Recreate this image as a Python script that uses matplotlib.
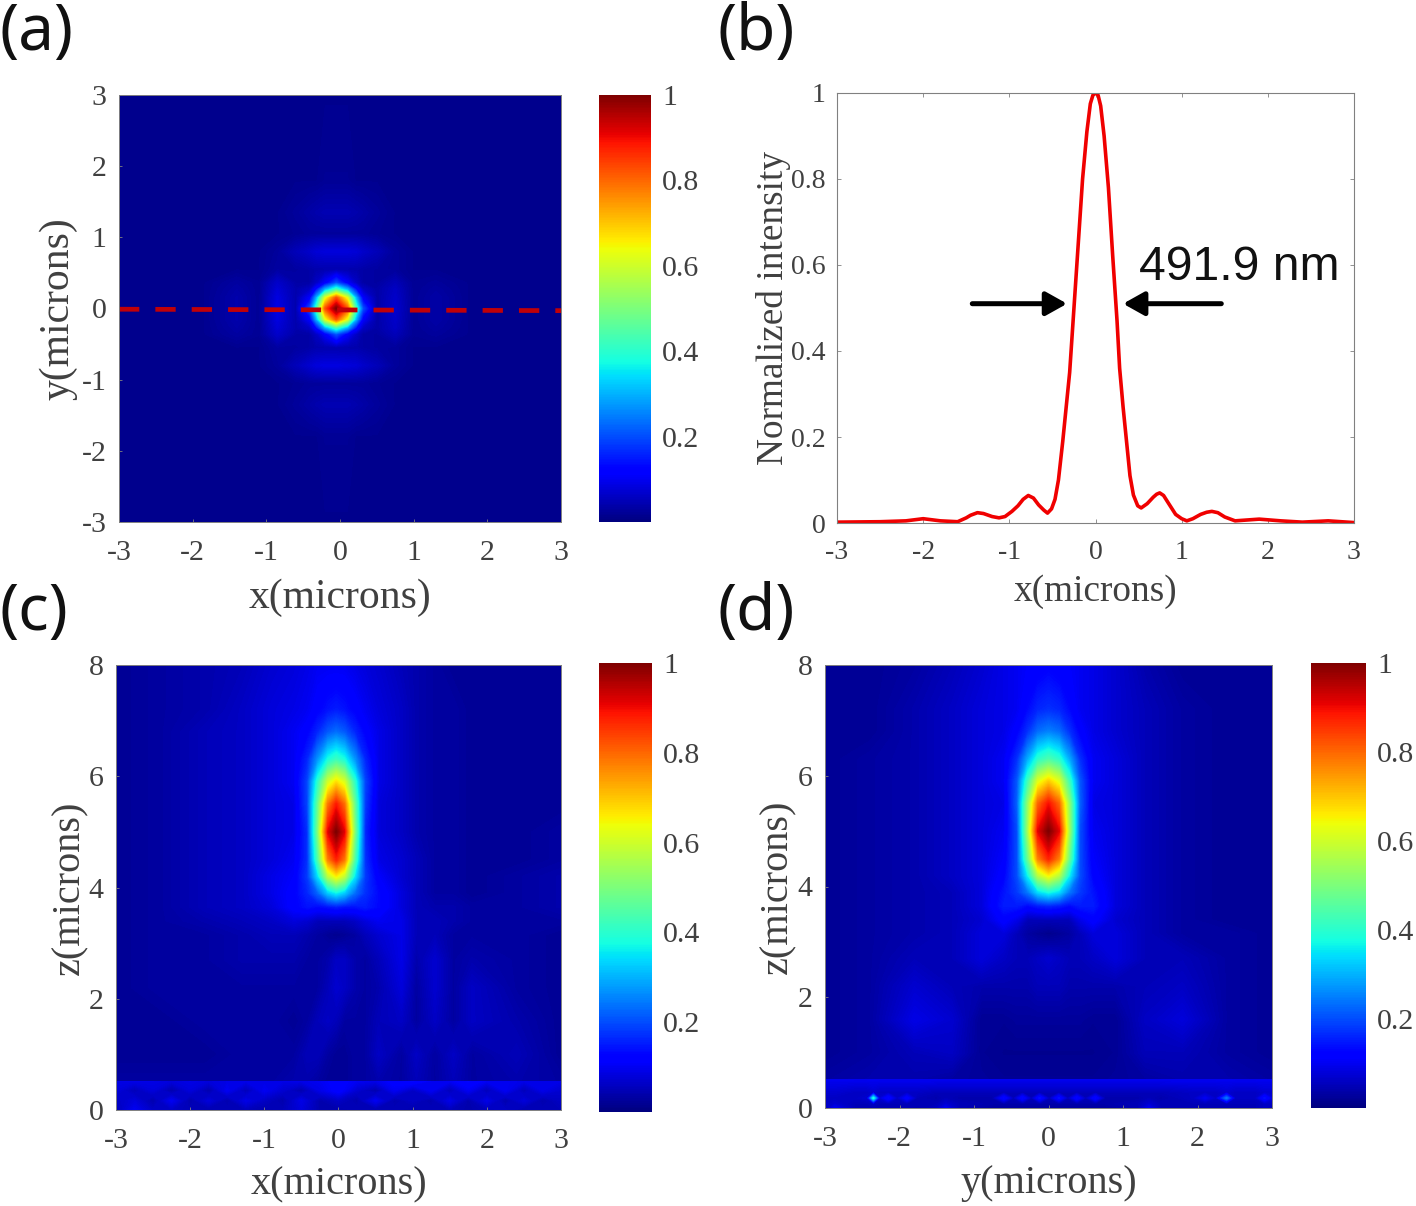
import matplotlib
matplotlib.use("Agg")
import numpy as np
import matplotlib.pyplot as plt
from matplotlib.cm import ScalarMappable
from matplotlib.colors import Normalize

W, H = 1416, 1206

# panel (a), focal plane
a_x = [-3, -1.85, -1.4, -1.1, -.85, -.6, -.41, -.32, -.2, -.05, .1, .22, .31, .5, .75, 1, 1.3, 1.75, 3]
a_y = [3, 1.8, 1.35, 1.05, .8, .55, .36, .27, .15, 0, -.15, -.27, -.36, -.55, -.8, -1.05, -1.35, -1.8, -3]
a_vals = [
    [.015, .015, .015, .015, .015, .015, .015, .015, .015, .015, .015, .015, .015, .015, .015, .015, .015, .015, .015],
    [.015, .015, .015, .015, .015, .015, .015, .015, .02, .02, .02, .015, .015, .015, .015, .015, .015, .015, .015],
    [.015, .015, .015, .015, .015, .025, .035, .04, .045, .045, .045, .04, .035, .025, .015, .015, .015, .015, .015],
    [.015, .015, .015, .015, .015, .02, .025, .025, .025, .025, .025, .025, .025, .02, .015, .015, .015, .015, .015],
    [.015, .015, .015, .015, .025, .05, .065, .075, .08, .08, .08, .075, .065, .05, .025, .015, .015, .015, .015],
    [.015, .015, .015, .015, .03, .03, .035, .04, .04, .04, .04, .04, .035, .03, .025, .015, .015, .015, .015],
    [.015, .015, .03, .02, .065, .035, .035, .06, .11, .2, .11, .06, .035, .03, .05, .02, .025, .015, .015],
    [.015, .015, .035, .02, .075, .04, .06, .13, .29, .42, .29, .13, .06, .035, .06, .02, .03, .015, .015],
    [.015, .015, .04, .02, .085, .04, .11, .29, .62, .82, .62, .29, .11, .035, .065, .02, .035, .015, .015],
    [.015, .015, .04, .02, .09, .04, .2, .42, .82, 1, .82, .42, .2, .035, .07, .02, .035, .015, .015],
    [.015, .015, .04, .02, .085, .04, .11, .29, .62, .82, .62, .29, .11, .035, .065, .02, .035, .015, .015],
    [.015, .015, .035, .02, .075, .04, .06, .13, .29, .42, .29, .13, .06, .035, .06, .02, .03, .015, .015],
    [.015, .015, .03, .02, .065, .035, .035, .06, .11, .2, .11, .06, .035, .03, .05, .02, .025, .015, .015],
    [.015, .015, .015, .015, .03, .03, .035, .04, .04, .04, .04, .04, .035, .03, .025, .015, .015, .015, .015],
    [.015, .015, .015, .015, .025, .05, .07, .08, .085, .085, .08, .075, .065, .05, .025, .015, .015, .015, .015],
    [.015, .015, .015, .015, .015, .02, .025, .025, .025, .025, .025, .025, .025, .02, .015, .015, .015, .015, .015],
    [.015, .015, .015, .015, .015, .025, .035, .04, .045, .045, .045, .04, .035, .025, .015, .015, .015, .015, .015],
    [.015, .015, .015, .015, .015, .015, .015, .015, .02, .02, .02, .015, .015, .015, .015, .015, .015, .015, .015],
    [.015, .015, .015, .015, .015, .015, .015, .015, .015, .015, .015, .015, .015, .015, .015, .015, .015, .015, .015],
]
cut_x = [-3, 3]
cut_y = [-.01, -.03]

# panel (b), intensity along the dashed line
b_x = [-3, -2.5, -2.2, -2.0, -1.8, -1.6, -1.5, -1.45, -1.37, -1.3, -1.2, -1.12, -1.05, -.97, -.9, -.84, -.78, -.72, -.66, -.6, -.557, -.51,
       -.47, -.43, -.38, -.34, -.3, -.25, -.2, -.15, -.1, -.06, -.03, 0, .03, .06, .1, .15, .2, .25, .28, .32, .35,
       .4, .44, .49, .53, .6, .67, .71, .745, .79, .85, .93, 1.0, 1.06, 1.13, 1.22, 1.29, 1.35, 1.42, 1.5, 1.62, 1.9, 2.15, 2.4, 2.7, 3]
b_y = [.002, .003, .005, .01, .005, .003, .012, .018, .024, .022, .015, .012, .015, .027, .04, .055, .064, .058, .042, .03, .023, .033,
       .055, .1, .19, .27, .35, .5, .65, .8, .91, .975, .995, 1, .995, .97, .9, .78, .62, .47, .36, .27, .21,
       .11, .065, .04, .035, .045, .06, .067, .07, .064, .045, .02, .01, .005, .01, .02, .025, .027, .024, .014, .005, .009, .005, .002, .005, .001]
fwhm_label = "491.9 nm"

# panel (c), x-z plane above the substrate
c_x = [-3, -2.4, -1.8, -1.3, -.9, -.6, -.42, -.28, -.14, -.03, .08, .22, .36, .54, .85, 1.05, 1.3, 1.55, 1.8, 2.4, 3]
c_z = [8, 7.2, 6.8, 6.3, 5.9, 5.5, 5, 4.5, 4.2, 3.9, 3.65, 3.4, 3.15, 2.7, 2.2, 1.6, 1, .52]
c_vals = [
    [.02, .03, .04, .05, .07, .08, .09, .10, .10, .10, .10, .09, .08, .07, .05, .04, .03, .02, .02, .02, .02],
    [.02, .03, .04, .06, .08, .09, .10, .12, .14, .15, .14, .12, .10, .08, .06, .04, .03, .03, .02, .02, .02],
    [.02, .03, .05, .06, .08, .10, .12, .16, .21, .23, .21, .16, .12, .09, .06, .04, .03, .03, .02, .02, .02],
    [.02, .03, .05, .06, .08, .10, .16, .27, .38, .42, .38, .27, .16, .09, .06, .04, .03, .03, .02, .02, .02],
    [.02, .03, .05, .06, .08, .10, .19, .40, .60, .67, .61, .40, .19, .09, .06, .04, .03, .03, .02, .02, .02],
    [.02, .03, .05, .06, .08, .09, .19, .47, .78, .88, .79, .47, .18, .08, .06, .04, .03, .03, .02, .02, .02],
    [.02, .03, .05, .06, .08, .09, .17, .50, .91, 1, .91, .50, .16, .08, .06, .04, .03, .03, .02, .02, .03],
    [.02, .03, .05, .06, .08, .10, .17, .44, .77, .87, .78, .44, .17, .09, .07, .05, .03, .03, .02, .02, .03],
    [.02, .03, .05, .06, .09, .11, .18, .34, .57, .65, .58, .35, .18, .11, .07, .05, .03, .03, .02, .03, .04],
    [.02, .03, .05, .06, .09, .12, .16, .22, .32, .36, .32, .23, .17, .13, .08, .05, .03, .03, .02, .03, .04],
    [.02, .03, .05, .06, .08, .12, .14, .13, .14, .15, .14, .14, .15, .13, .08, .05, .04, .04, .03, .03, .04],
    [.02, .03, .04, .05, .06, .08, .07, .05, .05, .05, .05, .06, .08, .10, .09, .05, .05, .04, .03, .03, .03],
    [.02, .03, .03, .04, .05, .05, .04, .03, .02, .015, .02, .03, .05, .07, .09, .05, .05, .03, .03, .03, .02],
    [.02, .03, .03, .04, .04, .04, .03, .03, .04, .06, .06, .04, .03, .05, .09, .04, .07, .03, .04, .03, .02],
    [.02, .03, .03, .03, .03, .03, .03, .03, .05, .07, .06, .04, .03, .04, .08, .03, .07, .03, .06, .03, .02],
    [.02, .02, .03, .03, .03, .02, .03, .05, .06, .05, .03, .03, .03, .05, .06, .03, .06, .03, .06, .04, .02],
    [.02, .02, .02, .03, .03, .03, .05, .05, .03, .02, .02, .03, .03, .06, .03, .06, .03, .06, .03, .05, .02],
    [.03, .03, .03, .03, .03, .04, .04, .03, .02, .02, .02, .03, .03, .04, .03, .05, .03, .05, .03, .04, .03],
]
c_band_x = [-3, -2.75, -2.5, -2.25, -2, -1.75, -1.5, -1.25, -1, -.75, -.5, -.25, 0, .25, .5, .75, 1, 1.25, 1.5, 1.75, 2, 2.25, 2.5, 2.75, 3]
c_band_z = [.52, .35, .17, 0]
c_band_vals = [
    [.09, .09, .09, .08, .09, .08, .09, .09, .09, .09, .09, .10, .12, .10, .09, .12, .13, .10, .10, .13, .10, .10, .09, .09, .09],
    [.08, .05, .08, .04, .08, .04, .10, .05, .10, .07, .04, .09, .12, .07, .04, .10, .06, .10, .05, .10, .05, .10, .05, .09, .07],
    [.06, .08, .04, .10, .04, .08, .04, .09, .06, .04, .09, .04, .06, .04, .10, .04, .06, .04, .09, .04, .09, .04, .08, .04, .06],
    [.05, .10, .06, .06, .05, .04, .05, .05, .04, .05, .08, .04, .04, .05, .04, .05, .04, .05, .05, .04, .05, .06, .04, .05, .05],
]

# panel (d), y-z plane above the substrate
d_x = [-3, -2.4, -1.8, -1.3, -.9, -.6, -.42, -.28, -.14, 0, .14, .28, .42, .6, .9, 1.3, 1.8, 2.4, 3]
d_z = [8, 7.2, 6.8, 6.3, 5.9, 5.5, 5, 4.5, 4.2, 3.9, 3.65, 3.4, 3.15, 2.7, 2.2, 1.6, 1, .52]
d_vals = [
    [.02, .02, .03, .05, .07, .09, .10, .11, .11, .12, .11, .11, .10, .09, .07, .04, .02, .02, .02],
    [.02, .02, .04, .06, .08, .09, .10, .13, .16, .17, .16, .13, .10, .09, .07, .05, .03, .02, .02],
    [.02, .02, .04, .06, .08, .09, .12, .17, .23, .25, .23, .17, .12, .09, .07, .05, .03, .02, .02],
    [.02, .03, .04, .06, .08, .10, .17, .29, .40, .44, .40, .29, .17, .10, .08, .05, .03, .02, .02],
    [.02, .03, .04, .06, .08, .10, .21, .42, .62, .69, .62, .42, .21, .10, .08, .05, .03, .02, .02],
    [.02, .03, .04, .06, .08, .09, .22, .52, .80, .89, .80, .52, .22, .09, .08, .05, .03, .02, .02],
    [.02, .03, .04, .06, .08, .10, .20, .54, .91, 1, .91, .54, .20, .10, .08, .05, .03, .02, .02],
    [.02, .03, .04, .06, .08, .11, .20, .47, .77, .87, .77, .47, .20, .11, .08, .05, .03, .02, .02],
    [.02, .03, .04, .06, .08, .12, .20, .36, .57, .65, .57, .36, .20, .12, .08, .05, .03, .02, .02],
    [.02, .03, .04, .05, .08, .14, .18, .24, .34, .38, .34, .24, .18, .14, .08, .05, .03, .02, .02],
    [.02, .03, .04, .05, .08, .15, .15, .13, .15, .16, .15, .13, .15, .15, .08, .05, .03, .02, .02],
    [.02, .03, .04, .05, .07, .12, .09, .05, .05, .05, .05, .05, .09, .12, .07, .05, .03, .02, .02],
    [.02, .03, .04, .05, .08, .08, .05, .03, .02, .012, .02, .03, .05, .08, .08, .05, .03, .03, .02],
    [.02, .03, .05, .05, .08, .06, .05, .05, .06, .07, .06, .05, .05, .06, .08, .05, .05, .03, .02],
    [.02, .03, .07, .05, .04, .04, .04, .04, .05, .05, .05, .04, .04, .04, .04, .05, .06, .03, .02],
    [.02, .03, .09, .07, .02, .02, .025, .025, .025, .025, .025, .025, .025, .02, .02, .06, .08, .03, .02],
    [.02, .03, .05, .06, .02, .015, .015, .015, .015, .015, .015, .015, .015, .015, .02, .05, .05, .03, .02],
    [.03, .04, .04, .03, .025, .02, .02, .02, .02, .02, .02, .02, .02, .02, .025, .03, .04, .04, .03],
]
d_band_x = [-3, -2.87, -2.6, -2.43, -2.35, -2.27, -2.15, -2.03, -1.9, -1.77, -1.5, -1.38, -1.2, -.75, -.6, -.47, -.35, -.23, -.12,
            .01, .14, .26, .38, .5, .63, .76, 1.2, 1.35, 1.5, 1.95, 2.1, 2.25, 2.39, 2.5, 2.78, 2.9, 3]
d_band_z = [.52, .28, .18, .08, 0]
d_band_vals = [
    [.10, .10, .10, .10, .10, .10, .10, .10, .10, .10, .10, .10, .10, .10, .10, .10, .10, .10, .10,
     .10, .10, .10, .10, .10, .10, .10, .10, .10, .10, .10, .10, .10, .10, .10, .10, .10, .10],
    [.07, .07, .06, .06, .07, .06, .06, .06, .06, .06, .05, .05, .05, .05, .05, .05, .05, .05, .05,
     .05, .05, .05, .05, .05, .05, .05, .05, .05, .05, .06, .06, .06, .07, .06, .06, .07, .07],
    [.06, .06, .06, .07, .38, .07, .13, .06, .12, .05, .04, .05, .04, .04, .13, .05, .13, .05, .14,
     .05, .14, .05, .13, .05, .13, .04, .04, .05, .04, .06, .10, .06, .24, .06, .06, .14, .08],
    [.06, .07, .05, .05, .06, .05, .05, .05, .05, .05, .05, .07, .05, .04, .04, .04, .04, .04, .04,
     .04, .04, .04, .04, .04, .04, .04, .05, .07, .05, .05, .05, .05, .05, .05, .05, .06, .06],
    [.05, .10, .05, .05, .05, .05, .05, .05, .05, .04, .06, .10, .05, .03, .03, .03, .03, .03, .03,
     .03, .03, .03, .03, .03, .03, .03, .05, .10, .05, .05, .05, .05, .05, .05, .05, .06, .05],
]

x_ticks = [-3, -2, -1, 0, 1, 2, 3]
y_ticks_a = [-3, -2, -1, 0, 1, 2, 3]
z_ticks = [0, 2, 4, 6, 8]
b_yticks = [0, .2, .4, .6, .8, 1]
b_ylabels = ["0", "0.2", "0.4", "0.6", "0.8", "1"]
cbar_ticks = [.2, .4, .6, .8, 1]
cbar_labels = ["0.2", "0.4", "0.6", "0.8", "1"]

plt.rcParams['font.family'] = ['Liberation Serif', 'DejaVu Serif']
plt.rcParams['axes.unicode_minus'] = False
tick_col = '#404040'
grey = '#808080'
levels = np.linspace(0, 1, 257)


def px_axes(fig, left, top, right, bottom):
    return fig.add_axes([left / W, 1 - bottom / H, (right - left) / W, (bottom - top) / H])


def draw_map(ax, x, y, vals):
    # many levels, no antialiasing, so the filled bands read as a smooth image
    ax.contourf(x, y, np.array(vals), levels=levels, cmap='jet', antialiased=False)


def style_map(ax, xt, yt, xlabel, ylabel, xpad, ypad, size=29):
    ax.set_xticks(xt)
    ax.set_yticks(yt)
    ax.tick_params(length=2, width=.6, direction='in', colors=grey, labelcolor=tick_col, labelsize=21.5, pad=9)
    ax.tick_params(axis='x', pad=13)
    ax.set_xlabel(xlabel, fontsize=size, color=tick_col, labelpad=xpad)
    ax.set_ylabel(ylabel, fontsize=size, color=tick_col, labelpad=ypad)
    for sp in ax.spines.values():
        sp.set_color(grey)
        sp.set_linewidth(.7)


def add_cbar(fig, box, size=21.5):
    cax = px_axes(fig, *box)
    sm = ScalarMappable(norm=Normalize(0, 1), cmap='jet')
    cb = fig.colorbar(sm, cax=cax, ticks=cbar_ticks)
    cb.ax.set_yticklabels(cbar_labels)
    cb.ax.tick_params(length=0, labelsize=size, labelcolor=tick_col, pad=8)
    cb.outline.set_visible(False)


fig = plt.figure(figsize=(W / 100, H / 100), dpi=100)

# (a)
ax = px_axes(fig, 119, 95, 561, 522)
draw_map(ax, a_x, a_y, a_vals)
ax.plot(cut_x, cut_y, color='#c00008', lw=3.4, dashes=(4.3, 3.4), dash_capstyle='butt')
ax.set_xlim(-3, 3)
ax.set_ylim(-3, 3)
style_map(ax, x_ticks, y_ticks_a, "x(microns)", "y(microns)", 9, 3, size=30)
add_cbar(fig, (599, 95, 651, 522))

# (b)
ax = px_axes(fig, 837, 93, 1354, 523)
ax.plot(b_x, b_y, color='#f00000', lw=2.6)
ax.set_xlim(-3, 3)
ax.set_ylim(0, 1)
ax.set_xticks(x_ticks)
ax.set_yticks(b_yticks)
ax.set_yticklabels(b_ylabels)
ax.tick_params(length=3, width=.6, direction='in', top=True, right=True, colors=grey, labelcolor=tick_col, labelsize=20, pad=8)
ax.tick_params(axis='x', pad=12)
ax.set_xlabel("x(microns)", fontsize=26.8, color=tick_col, labelpad=7)
ax.set_ylabel("Normalized intensity", fontsize=26.8, color=tick_col, labelpad=0)
for sp in ax.spines.values():
    sp.set_color(grey)
    sp.set_linewidth(.8)
arrow = dict(arrowstyle='-|>,head_length=.75,head_width=.42', color='black', lw=3.6, shrinkA=0, shrinkB=0, mutation_scale=17)
ax.annotate("", xy=(-.33, .51), xytext=(-1.43, .51), arrowprops=arrow)
ax.annotate("", xy=(.32, .51), xytext=(1.46, .51), arrowprops=arrow)
ax.text(.5, .595, fwhm_label, family=['Liberation Sans'], fontsize=34.7, color='#111111', va='center', ha='left')

# (c)
ax = px_axes(fig, 116, 665, 561, 1110)
draw_map(ax, c_x, c_z, c_vals)
draw_map(ax, c_band_x, c_band_z, c_band_vals)
ax.set_xlim(-3, 3)
ax.set_ylim(0, 8)
style_map(ax, x_ticks, z_ticks, "x(microns)", "z(microns)", 9, 0)
add_cbar(fig, (599, 663, 652, 1112))

# (d)
ax = px_axes(fig, 825, 665, 1272, 1108)
draw_map(ax, d_x, d_z, d_vals)
draw_map(ax, d_band_x, d_band_z, d_band_vals)
ax.set_xlim(-3, 3)
ax.set_ylim(0, 8)
style_map(ax, x_ticks, z_ticks, "y(microns)", "z(microns)", 9, 1)
add_cbar(fig, (1311, 663, 1366, 1108))

# panel letters
for lab, px, py in [("(a)", 0, 33), ("(b)", 717, 33), ("(c)", 0, 613), ("(d)", 717, 613)]:
    fig.text(px / W, 1 - py / H, lab, family=['Noto Sans'], fontsize=46, color='#111111', va='center', ha='left')

fig.savefig("out.png", dpi=100)
